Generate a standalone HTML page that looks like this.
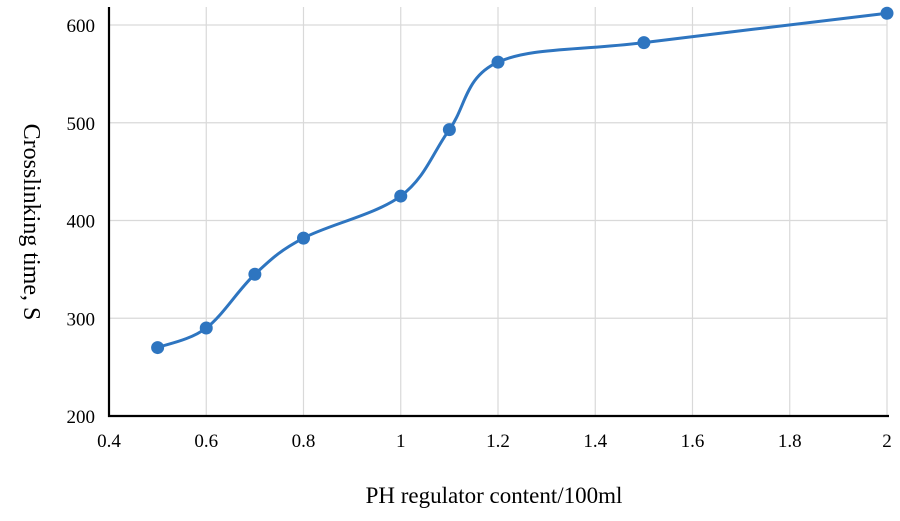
<!DOCTYPE html>
<html><head><meta charset="utf-8"><style>
body{margin:0;background:#fff;width:900px;height:516px;overflow:hidden}
text{font-family:"Liberation Serif",serif;fill:#000}
</style></head><body>
<svg id="chart" width="900" height="516">
<g id="grid"></g>
<g id="axes"></g>
<g id="series"></g>
<text x="24" y="222" font-size="24" text-anchor="middle" transform="rotate(90 24 222)">Crosslinking time, S</text>
<text x="494" y="503" font-size="23" text-anchor="middle">PH regulator content/100ml</text>
</svg>
<script>
const xValues=[0.5,0.6,0.7,0.8,1.0,1.1,1.2,1.5,2.0];
const yValues=[270,290,345,382,425,493,562,582,612];
const xTicks=[0.4,0.6,0.8,1,1.2,1.4,1.6,1.8,2];
const yTicks=[200,300,400,500,600];
const NS="http://www.w3.org/2000/svg";
const X0=109,X1=887,Y0=416,Y1=25;
const sx=v=>X0+(v-0.4)/(2-0.4)*(X1-X0);
const sy=v=>Y0-(v-200)/(600-200)*(Y0-Y1);
function mk(tag,parent,attrs){const e=document.createElementNS(NS,tag);for(const k in attrs)e.setAttribute(k,attrs[k]);parent.appendChild(e);return e;}
const grid=document.getElementById('grid'),axes=document.getElementById('axes'),series=document.getElementById('series');
xTicks.forEach(t=>{
 if(t>0.4){const l=mk('line',grid,{x1:sx(t),x2:sx(t),y1:Y1-18,y2:Y0,stroke:'#d9d9d9','stroke-width':1.2});
 
 }
 const tx=mk('text',axes,{x:sx(t),y:447,'font-size':19,'text-anchor':'middle'});tx.textContent=t;
 
 
});
yTicks.forEach(t=>{
 if(t>200){const l=mk('line',grid,{x1:X0,x2:X1,y1:sy(t),y2:sy(t),stroke:'#d9d9d9','stroke-width':1.2});
 
 }
 const tx=mk('text',axes,{x:95,y:sy(t)+7,'font-size':19,'text-anchor':'end'});tx.textContent=t;
 
 
});
const ax=mk('path',axes,{d:`M${X0} ${Y1-18}V${Y0}H${X1+2}`,fill:'none',stroke:'#000','stroke-width':2.2});


const P=xValues.map((x,i)=>[sx(x),sy(yValues[i])]);
let d=`M${P[0][0]} ${P[0][1]}`;
for(let i=0;i<P.length-1;i++){
 const p0=P[Math.max(0,i-1)],p1=P[i],p2=P[i+1],p3=P[Math.min(P.length-1,i+2)];
 const t=0.17;
 const c1=[p1[0]+(p2[0]-p0[0])*t,p1[1]+(p2[1]-p0[1])*t];
 const c2=[p2[0]-(p3[0]-p1[0])*t,p2[1]-(p3[1]-p1[1])*t];
 d+=` C${c1[0]} ${c1[1]} ${c2[0]} ${c2[1]} ${p2[0]} ${p2[1]}`;
}
const line=mk('path',series,{d:d,fill:'none',stroke:'#2e75c0','stroke-width':3});


P.forEach(p=>{const c=mk('circle',series,{cx:p[0],cy:p[1],r:6.5,fill:'#2e75c0'});
 
 });
</script>
</body></html>
